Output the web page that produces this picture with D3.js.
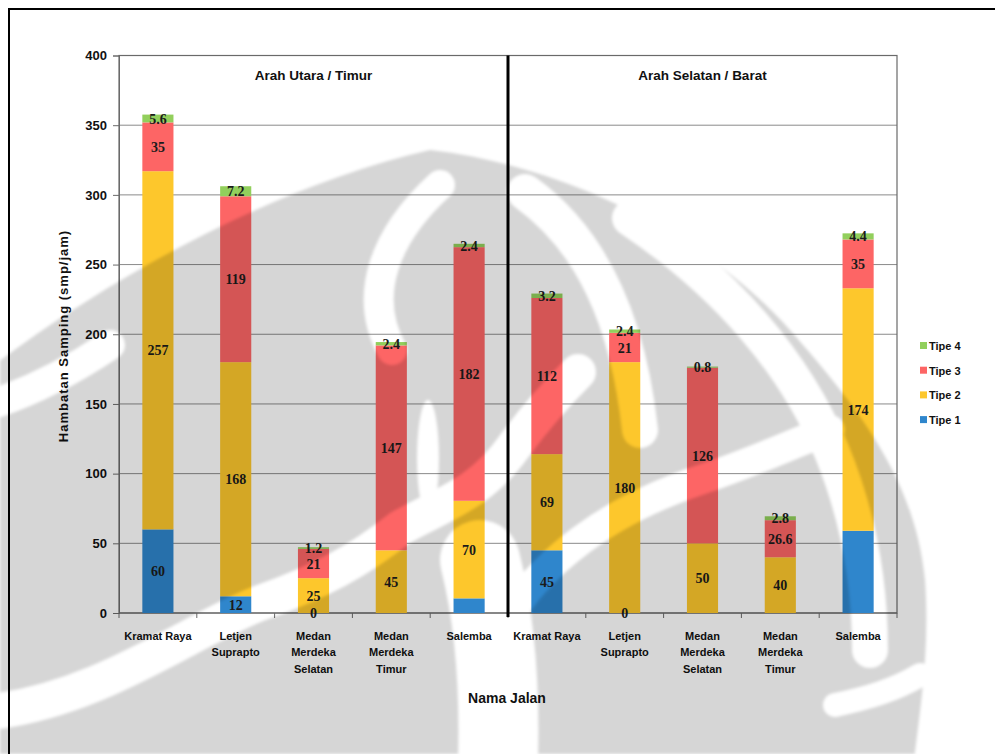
<!DOCTYPE html>
<html>
<head>
<meta charset="utf-8">
<script src="https://cdn.jsdelivr.net/npm/d3@7"></script>
<style>
  html, body { margin: 0; padding: 0; background: #fff; }
  svg { display: block; }
</style>
</head>
<body>
<svg id="chart" width="995" height="754"></svg>
<script>
// Street names (two directions, five streets each)
const categories = [
  "Kramat Raya", "Letjen Suprapto", "Medan Merdeka Selatan", "Medan Merdeka Timur", "Salemba",
  "Kramat Raya ", "Letjen Suprapto ", "Medan Merdeka Selatan ", "Medan Merdeka Timur ", "Salemba "
];
const categoryLines = [
  ["Kramat Raya"], ["Letjen", "Suprapto"], ["Medan", "Merdeka", "Selatan"], ["Medan", "Merdeka", "Timur"], ["Salemba"],
  ["Kramat Raya"], ["Letjen", "Suprapto"], ["Medan", "Merdeka", "Selatan"], ["Medan", "Merdeka", "Timur"], ["Salemba"]
];
const directions = ["Arah Utara / Timur", "Arah Selatan / Barat"];

// Side friction per type (smp/jam)
const tipe1 = [60, 12, 0, 0, 10.5, 45, 0, 0, 0, 59];
const tipe2 = [257, 168, 25, 45, 70, 69, 180, 50, 40, 174];
const tipe3 = [35, 119, 21, 147, 182, 112, 21, 126, 26.6, 35];
const tipe4 = [5.6, 7.2, 1.2, 2.4, 2.4, 3.2, 2.4, 0.8, 2.8, 4.4];

// Which Tipe 1 data labels are printed
const labelTipe1 = [true, true, true, false, false, true, true, false, false, false];

const seriesNames = ["Tipe 1", "Tipe 2", "Tipe 3", "Tipe 4"];
const seriesColors = ["#2f86cc", "#fdc72c", "#fd6565", "#92cf5c"];
const yTicks = [0, 50, 100, 150, 200, 250, 300, 350, 400];

const svg = d3.select("#chart");
const plot = { left: 119, right: 897, top: 55.5, bottom: 613 };

const rows = categories.map((c, i) => ({
  cat: c, "Tipe 1": tipe1[i], "Tipe 2": tipe2[i], "Tipe 3": tipe3[i], "Tipe 4": tipe4[i]
}));
const stacked = d3.stack().keys(seriesNames)(rows);

const x = d3.scaleBand().domain(categories).range([plot.left, plot.right]).paddingInner(0.6).paddingOuter(0.3);
const xOuter = d3.scaleBand().domain(categories).range([plot.left, plot.right]);
const y = d3.scaleLinear().domain([0, 400]).range([plot.bottom, plot.top]);
const color = d3.scaleOrdinal().domain(seriesNames).range(seriesColors);

const SANS = "'Liberation Sans', Arial, sans-serif";
const SERIF = "'Liberation Serif', 'Times New Roman', serif";

// Outer frame
svg.append("rect").attr("x", 9).attr("y", 9).attr("width", 1000).attr("height", 760)
  .attr("fill", "none").attr("stroke", "#000").attr("stroke-width", 2);

// Gridlines
svg.append("g").selectAll("line").data(yTicks.filter(t => t > 0 && t < 400)).join("line")
  .attr("x1", plot.left).attr("x2", plot.right)
  .attr("y1", d => y(d)).attr("y2", d => y(d))
  .attr("stroke", "#8a8a8a").attr("stroke-width", 1);

// Plot border
svg.append("rect").attr("x", plot.left).attr("y", plot.top)
  .attr("width", plot.right - plot.left).attr("height", plot.bottom - plot.top)
  .attr("fill", "none").attr("stroke", "#6a6a6a").attr("stroke-width", 1.2);

// Y axis
const yAxis = svg.append("g").attr("transform", `translate(${plot.left},0)`)
  .call(d3.axisLeft(y).tickValues(yTicks).tickSize(6).tickPadding(6));
yAxis.select(".domain").attr("stroke", "#6a6a6a");
yAxis.selectAll(".tick line").attr("stroke", "#6a6a6a");
yAxis.selectAll(".tick text").attr("font-family", SANS).attr("font-weight", "bold")
  .attr("font-size", 13).attr("fill", "#111");

// X axis ticks at category boundaries
const bounds = categories.map(c => xOuter(c)).concat([plot.right]);
svg.append("g").selectAll("line").data(bounds).join("line")
  .attr("x1", d => d).attr("x2", d => d)
  .attr("y1", plot.bottom).attr("y2", plot.bottom + 5)
  .attr("stroke", "#6a6a6a");
svg.append("line").attr("x1", plot.left).attr("x2", plot.right)
  .attr("y1", plot.bottom).attr("y2", plot.bottom).attr("stroke", "#6a6a6a").attr("stroke-width", 1.2);

// Stacked bars
svg.append("g").selectAll("g").data(stacked).join("g")
  .attr("fill", d => color(d.key))
  .selectAll("rect").data(d => d).join("rect")
  .attr("x", d => x(d.data.cat))
  .attr("width", x.bandwidth())
  .attr("y", d => y(d[1]))
  .attr("height", d => y(d[0]) - y(d[1]));

// Divider between the two directions
const divX = xOuter(categories[5]);
svg.append("line").attr("x1", divX).attr("x2", divX)
  .attr("y1", plot.top).attr("y2", plot.bottom + 4)
  .attr("stroke", "#000").attr("stroke-width", 3);

// Data labels
const labelG = svg.append("g").attr("font-family", SERIF).attr("font-weight", "bold")
  .attr("font-size", 14).attr("fill", "#1b1b1b").attr("text-anchor", "middle");
stacked.forEach((s, si) => {
  s.forEach((d, i) => {
    if (si === 0 && !labelTipe1[i]) return;
    labelG.append("text")
      .attr("x", x(d.data.cat) + x.bandwidth() / 2)
      .attr("y", (y(d[0]) + y(d[1])) / 2)
      .attr("dy", "0.36em")
      .text(d.data[s.key]);
  });
});

// Category labels
const xl = svg.append("g").attr("font-family", SANS).attr("font-weight", "bold")
  .attr("font-size", 11).attr("fill", "#111").attr("text-anchor", "middle");
categories.forEach((c, i) => {
  const cx = xOuter(c) + xOuter.bandwidth() / 2;
  const t = xl.append("text").attr("x", cx).attr("y", 640);
  categoryLines[i].forEach((ln, j) => t.append("tspan")
    .attr("x", cx).attr("dy", j === 0 ? 0 : 16.3).text(ln));
});

// Direction titles
[0, 1].forEach(g => {
  const x0 = xOuter(categories[g * 5]), x1 = g === 0 ? divX : plot.right;
  svg.append("text").attr("x", (x0 + x1) / 2).attr("y", 80)
    .attr("text-anchor", "middle").attr("font-family", SANS).attr("font-weight", "bold")
    .attr("font-size", 13.5).attr("fill", "#111").text(directions[g]);
});

// Axis titles
svg.append("text").attr("transform", "translate(68,336) rotate(-90)")
  .attr("text-anchor", "middle").attr("font-family", SANS).attr("font-weight", "bold")
  .attr("font-size", 13).attr("letter-spacing", 1).attr("fill", "#111")
  .text("Hambatan Samping (smp/jam)");
svg.append("text").attr("x", 507).attr("y", 703)
  .attr("text-anchor", "middle").attr("font-family", SANS).attr("font-weight", "bold")
  .attr("font-size", 14).attr("fill", "#111").text("Nama Jalan");

// Legend (top = Tipe 4)
const legend = svg.append("g");
seriesNames.slice().reverse().forEach((name, i) => {
  const ly = 346 + i * 24.7;
  legend.append("rect").attr("x", 920).attr("y", ly - 4).attr("width", 7).attr("height", 7)
    .attr("fill", color(name));
  legend.append("text").attr("x", 929).attr("y", ly).attr("dy", "0.35em")
    .attr("font-family", SANS).attr("font-weight", "bold").attr("font-size", 11)
    .attr("fill", "#111").text(name);
});

// Faint emblem printed across the page: a dome cut by curved white gaps
const defs = svg.append("defs");
defs.append("filter").attr("id", "soft").attr("x", "-5%").attr("y", "-5%").attr("width", "110%").attr("height", "110%")
  .append("feGaussianBlur").attr("stdDeviation", 1.6);
const mask = defs.append("mask").attr("id", "emblemGaps")
  .attr("maskUnits", "userSpaceOnUse").attr("x", 0).attr("y", 0).attr("width", 995).attr("height", 754);
mask.append("rect").attr("width", 995).attr("height", 754).attr("fill", "#fff");
const gaps = [
  { d: "M440,185 C385,235 362,295 392,350", w: 30 },
  { d: "M-10,405 C30,392 70,372 110,345", w: 30 },
  { d: "M-10,712 C100,700 190,630 260,603 C320,582 360,560 400,528 C440,505 480,495 515,445 C535,418 555,395 578,372", w: 36 },
  { d: "M525,192 C592,240 628,320 640,430", w: 36 },
  { d: "M630,218 C725,282 795,362 832,452 C860,520 870,585 870,650", w: 36 },
  { d: "M500,630 C540,560 610,510 700,480 C760,460 800,440 830,430", w: 30 },
  { d: "M835,705 C868,698 895,690 920,675", w: 24 },
  { d: "M480,560 C495,620 500,690 498,760", w: 80 }
];
gaps.forEach(g => mask.append("path").attr("d", g.d).attr("fill", "none")
  .attr("stroke", "#000").attr("stroke-width", g.w).attr("stroke-linecap", "round"));
mask.append("ellipse").attr("cx", 428).attr("cy", 458).attr("rx", 11).attr("ry", 58).attr("fill", "#000");

svg.append("g").attr("filter", "url(#soft)").append("path")
  .attr("d", "M-10,368 C120,270 280,185 430,150 C560,165 700,230 790,330 C860,410 915,480 925,580 C930,650 920,710 914,760 L-10,760 Z")
  .attr("fill", "#000").attr("opacity", 0.16).attr("mask", "url(#emblemGaps)");
</script>
</body>
</html>
